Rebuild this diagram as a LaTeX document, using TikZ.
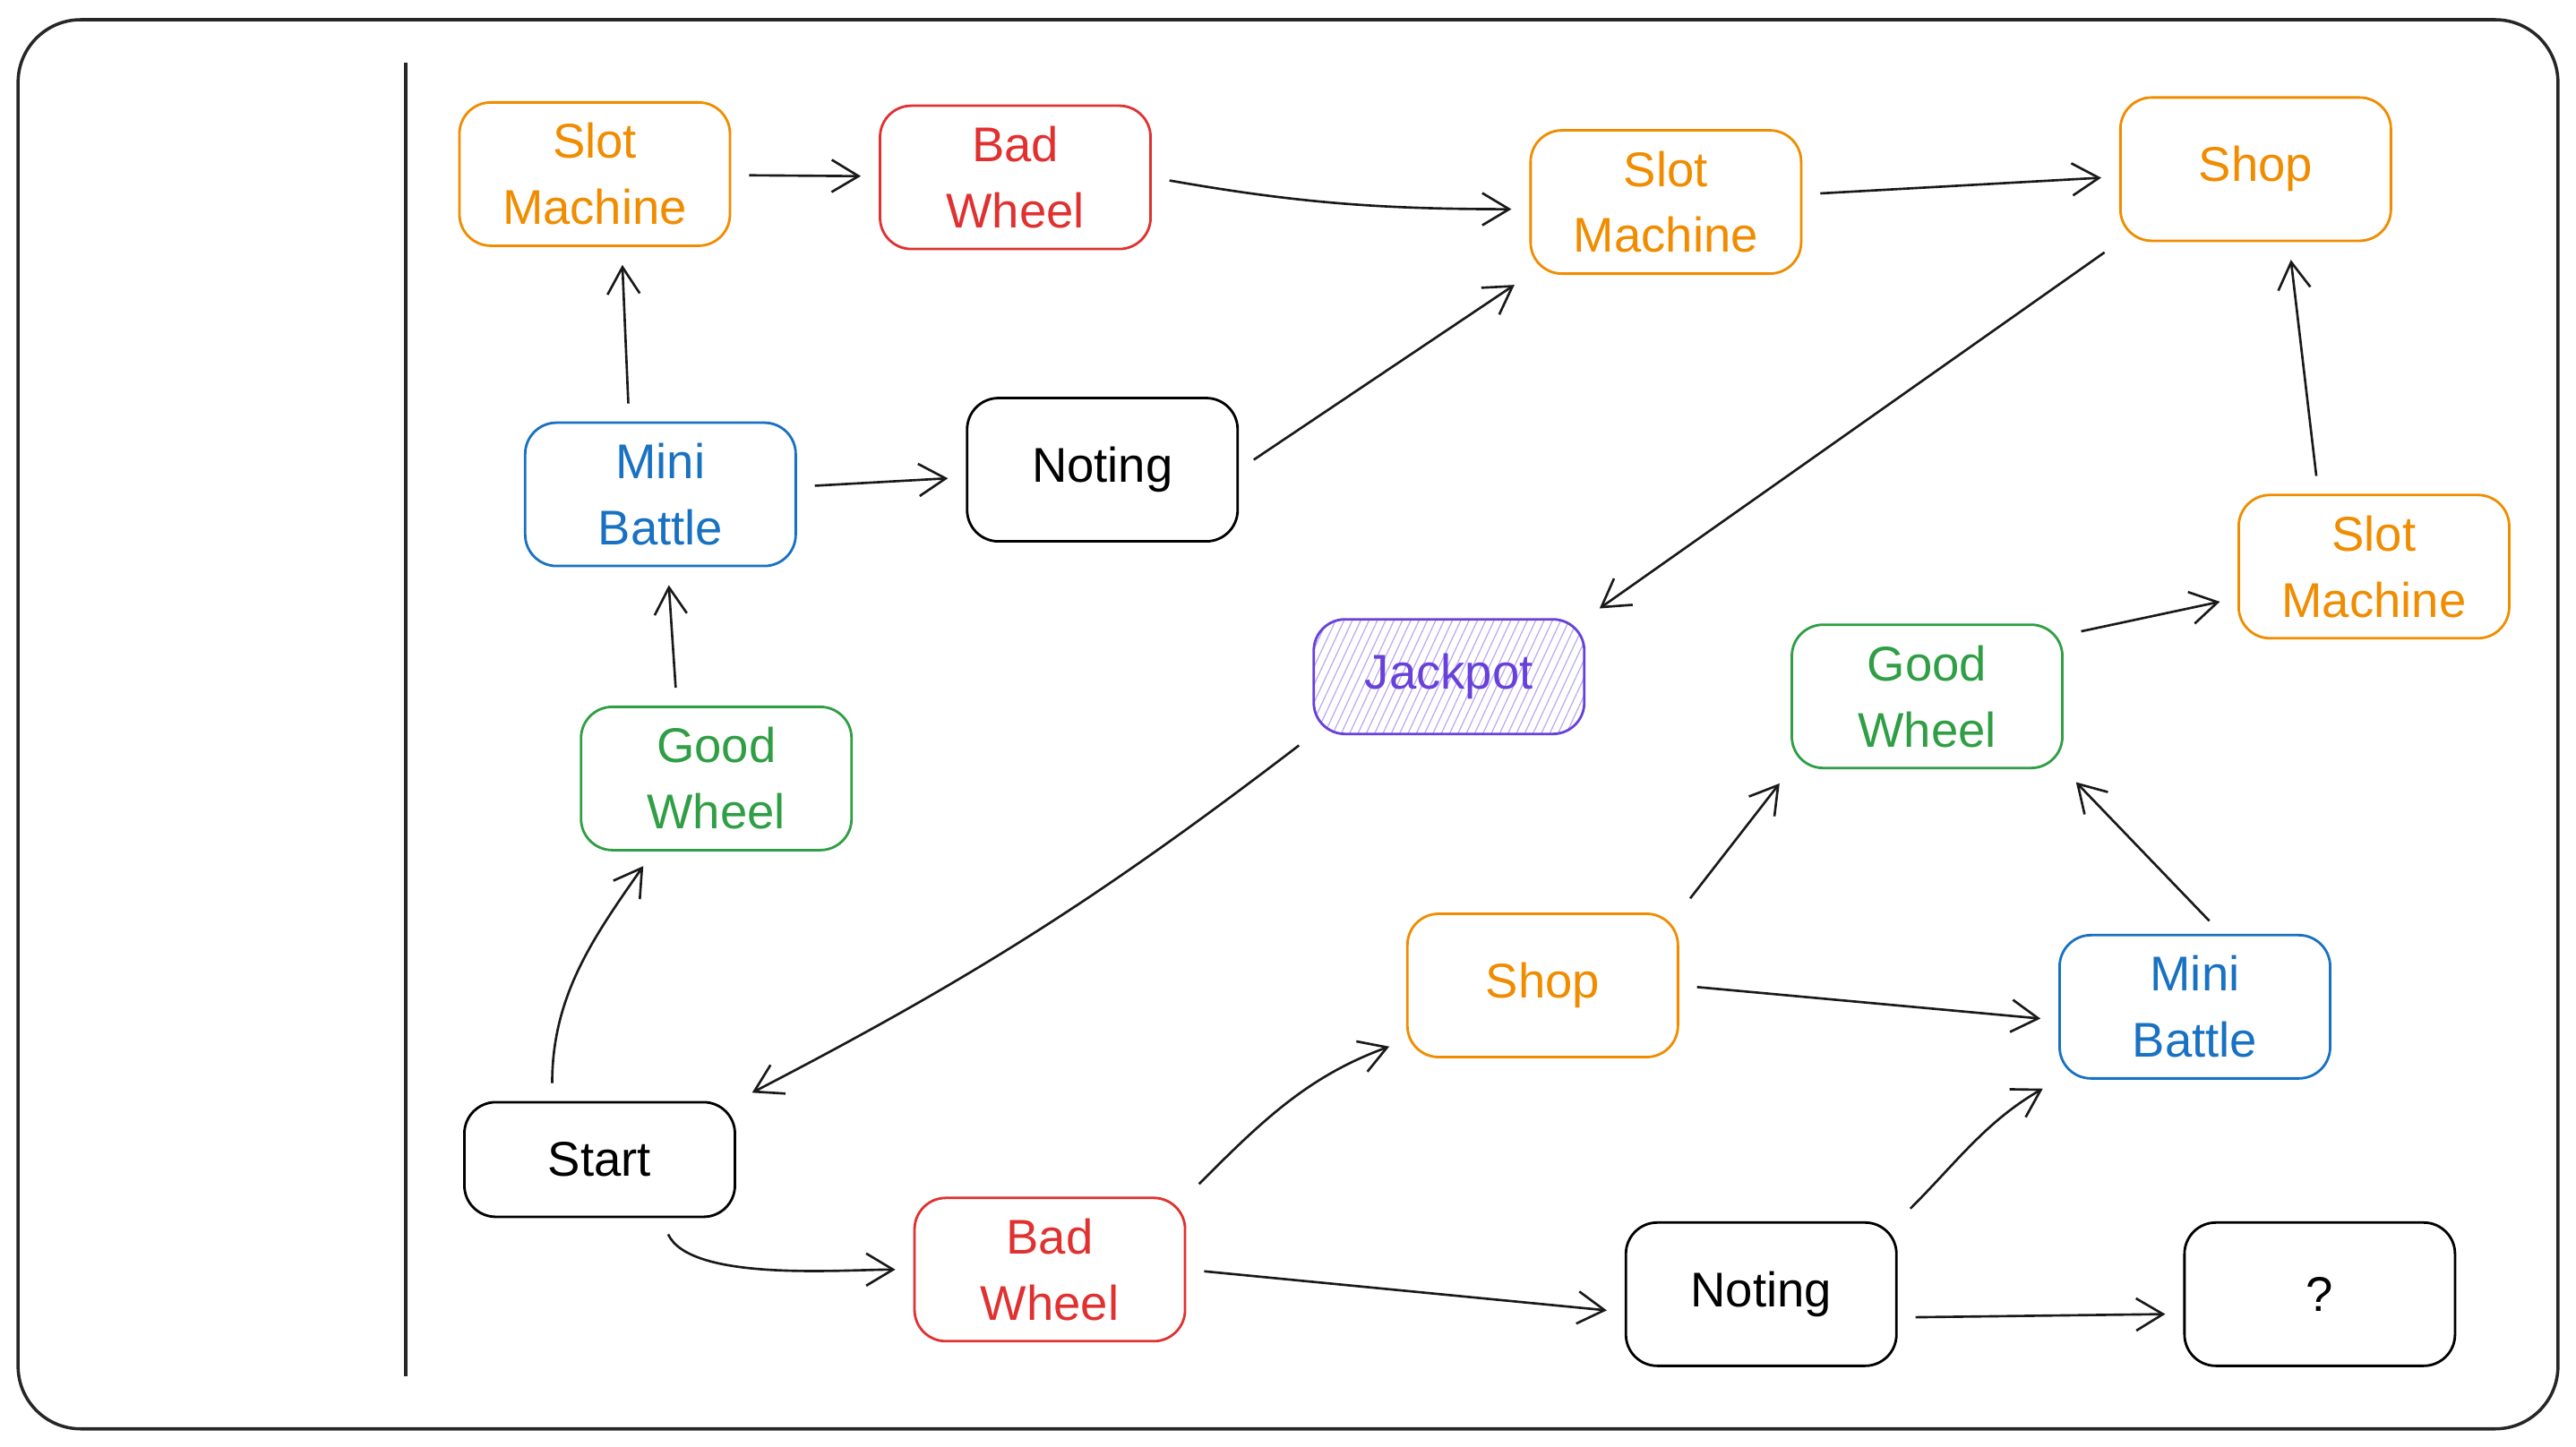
\documentclass[tikz,border=0pt]{standalone}
\usepackage{fontspec}
\setmainfont{Liberation Sans}
\usetikzlibrary{arrows.meta,patterns.meta}
\definecolor{slot}{HTML}{F08C00}
\definecolor{bad}{HTML}{E03131}
\definecolor{good}{HTML}{2F9E44}
\definecolor{mini}{HTML}{1971C2}
\definecolor{jack}{HTML}{6741D9}
\begin{document}
\begin{tikzpicture}[x=0.1834mm,y=-0.1834mm,
  every node/.style={font=\fontsize{15.5}{21}\selectfont,align=center},
  box/.style={draw,rounded corners=3.5mm,minimum width=30.2mm,minimum height=16mm,line width=0.8pt,inner sep=0pt},
  flat/.style={box,minimum height=12.8mm},
  arr/.style={black!90,line width=0.75pt,-{Straight Barb[length=3mm,width=3.6mm]},shorten <=2mm,shorten >=2mm}]
  \useasboundingbox (0,0) rectangle (1568,880.6);
  \draw [black!85,line width=1pt,rounded corners=7mm] (11,12) rectangle (1557,870);
  \draw [black!85,line width=0.9pt] (247,38) -- (247,838);

  \node [box,slot] (slotA) at (362,106) {Slot\\Machine};
  \node [box,bad] (badA) at (618,108) {Bad\\Wheel};
  \node [box,slot] (slotB) at (1014,123) {Slot\\Machine};
  \node [box,slot] (shopA) at (1373,103) {Shop};
  \node [box,mini] (miniA) at (402,301) {Mini\\Battle};
  \node [box] (notA) at (671,286) {Noting};
  \node [box,slot] (slotC) at (1445,345) {Slot\\Machine};
  \node [flat,jack,pattern={Lines[angle=65,distance=2.4pt,line width=0.35pt]},pattern color=jack!45] (jackpot) at (882,412) {Jackpot};
  \node [box,good] (goodB) at (1173,424) {Good\\Wheel};
  \node [box,good] (goodA) at (436,474) {Good\\Wheel};
  \node [box,slot] (shopB) at (939,600) {Shop};
  \node [box,mini] (miniB) at (1336,613) {Mini\\Battle};
  \node [flat] (start) at (365,706) {Start};
  \node [box,bad] (badB) at (639,773) {Bad\\Wheel};
  \node [box] (notB) at (1072,788) {Noting};
  \node [box] (unknown) at (1412,788) {?};

  \draw [arr] (slotA) -- (badA);
  \draw [arr] (badA.east) to[out=-10,in=180] ([yshift=-0.8mm]slotB.west);
  \draw [arr] (slotB) -- (shopA);
  \draw [arr] (shopA.south west) -- (jackpot.north east);
  \draw [arr] ([xshift=-3.5mm]miniA.north) -- ([xshift=3mm]slotA.south);
  \draw [arr] (miniA) -- (notA);
  \draw [arr] (notA.east) -- (slotB.south west);
  \draw [arr] ([xshift=-4.4mm]goodA.north) -- ([xshift=0.8mm]miniA.south);
  \draw [arr] ([xshift=-5.3mm]start.north) to[out=90,in=-125] ([xshift=-7mm]goodA.south);
  \draw [arr] (jackpot.south west) to[bend left=5] (start.north east);
  \draw [arr] ([xshift=6.8mm]start.south) to[out=-65,in=180,looseness=0.7] (badB.west);
  \draw [arr] (badB.north east) to[out=45,in=200] ([yshift=2mm]shopB.south west);
  \draw [arr] (badB.east) -- ([yshift=-2mm]notB.west);
  \draw [arr] (shopB.north east) -- (goodB.south west);
  \draw [arr] (shopB.east) -- ([yshift=-1.5mm]miniB.west);
  \draw [arr] (notB.north east) to[out=45,in=210] (miniB.south west);
  \draw [arr] ([yshift=-2.6mm]notB.east) -- ([yshift=-2.2mm]unknown.west);
  \draw [arr] ([xshift=3mm]miniB.north) -- (goodB.south east);
  \draw [arr] ([yshift=-1.3mm]goodB.north east) -- ([yshift=-3.5mm]slotC.west);
  \draw [arr] ([xshift=-6.2mm]slotC.north) -- ([xshift=3.7mm]shopA.south);
\end{tikzpicture}
\end{document}
